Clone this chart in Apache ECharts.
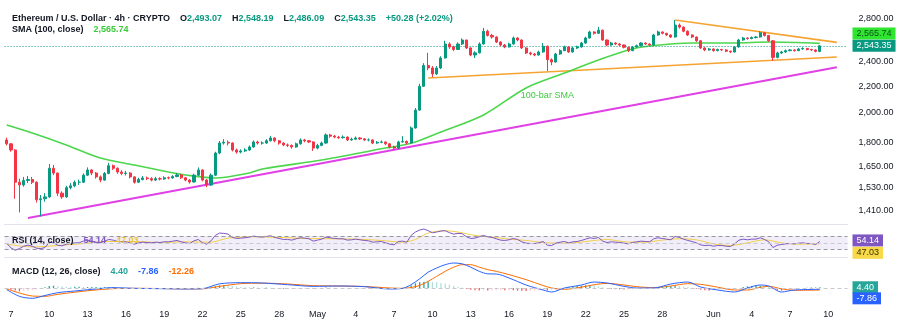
<!DOCTYPE html>
<html><head><meta charset="utf-8">
<script src="https://cdn.jsdelivr.net/npm/echarts@6/dist/echarts.min.js"></script>
<style>html,body{margin:0;padding:0;background:#fff}#c{width:903px;height:330px}</style>
</head><body><div id="c"></div>
<script>
const FONT = "'Liberation Sans Narrow','Liberation Sans',Arial,sans-serif";
const FS = 9;
const startTime = Date.UTC(2025, 3, 6, 16);
const stepHours = 8;
const categoryCount = 198;
const firstOpen = 1815;
const closes = [
1790,1751,1560,1545,1570,1575,1560,1465,1470,1480,
1640,1612,1500,1480,1530,1540,1560,1560,1600,1630,
1612,1590,1572,1610,1655,1640,1618,1610,1612,1590,
1560,1575,1584,1580,1572,1580,1578,1585,1584,1592,
1601,1585,1572,1561,1600,1630,1572,1544,1600,1732,
1795,1800,1795,1751,1738,1745,1751,1770,1802,1795,
1795,1810,1828,1810,1795,1783,1780,1770,1790,1815,
1810,1802,1763,1780,1795,1848,1840,1834,1830,1834,
1815,1820,1828,1822,1815,1815,1795,1800,1802,1790,
1770,1763,1802,1805,1795,1895,2020,2200,2370,2350,
2300,2349,2435,2560,2533,2510,2560,2597,2524,2461,
2480,2560,2680,2640,2625,2578,2551,2533,2560,2616,
2597,2524,2479,2470,2461,2488,2540,2420,2400,2470,
2500,2533,2488,2524,2533,2569,2616,2673,2660,2690,
2597,2551,2569,2560,2551,2530,2500,2533,2545,2569,
2560,2551,2644,2673,2660,2644,2625,2740,2720,2680,
2644,2625,2590,2524,2506,2515,2500,2510,2506,2495,
2488,2533,2597,2616,2610,2620,2625,2665,2640,2590,
2440,2479,2488,2500,2506,2500,2515,2520,2510,2506,
2493.07,2543.35];
const highs = [
1830,1795,1755,1580,1590,1595,1590,1565,1490,1500,
1665,1660,1615,1510,1540,1555,1570,1575,1610,1645,
1635,1618,1598,1618,1672,1662,1645,1628,1625,1618,
1594,1585,1595,1592,1588,1590,1588,1594,1592,1600,
1612,1606,1590,1578,1608,1645,1634,1578,1610,1740,
1808,1820,1812,1800,1760,1755,1762,1780,1812,1810,
1806,1820,1842,1832,1815,1800,1792,1786,1798,1825,
1822,1815,1806,1790,1805,1858,1855,1848,1842,1845,
1838,1830,1838,1834,1828,1825,1820,1808,1812,1806,
1795,1778,1810,1840,1812,1905,2035,2220,2390,2480,
2365,2365,2450,2590,2575,2545,2575,2612,2600,2530,
2495,2575,2712,2695,2655,2632,2585,2560,2572,2630,
2625,2602,2530,2490,2478,2500,2570,2545,2432,2480,
2512,2545,2540,2535,2545,2580,2628,2685,2680,2722,
2695,2602,2580,2575,2568,2556,2535,2542,2556,2578,
2575,2566,2655,2685,2678,2665,2650,2790,2755,2725,
2688,2650,2630,2595,2530,2525,2520,2518,2516,2512,
2500,2542,2608,2626,2622,2630,2635,2680,2670,2645,
2595,2490,2498,2510,2515,2512,2525,2530,2524,2516,
2512,2548.19];
const lows = [
1780,1740,1470,1400,1535,1555,1550,1450,1380,1455,
1475,1600,1485,1470,1475,1520,1532,1545,1555,1595,
1600,1580,1560,1568,1605,1630,1608,1600,1598,1582,
1552,1555,1570,1572,1565,1566,1570,1574,1576,1580,
1588,1578,1565,1552,1558,1595,1565,1532,1540,1595,
1725,1785,1780,1742,1728,1730,1738,1745,1765,1785,
1785,1790,1805,1800,1785,1775,1770,1760,1765,1785,
1800,1795,1745,1755,1775,1790,1830,1826,1822,1824,
1808,1810,1815,1815,1808,1806,1788,1790,1794,1782,
1762,1752,1760,1798,1785,1792,1890,2015,2195,2330,
2274,2290,2340,2430,2515,2495,2505,2550,2515,2450,
2435,2475,2555,2630,2610,2568,2540,2522,2528,2555,
2585,2515,2470,2458,2450,2455,2482,2325,2372,2395,
2462,2495,2480,2482,2515,2528,2562,2610,2648,2655,
2590,2540,2545,2550,2540,2520,2486,2495,2528,2540,
2550,2542,2548,2638,2650,2635,2615,2620,2705,2670,
2635,2615,2580,2515,2495,2500,2490,2494,2496,2486,
2478,2482,2528,2590,2600,2604,2612,2620,2630,2580,
2410,2432,2470,2480,2494,2492,2495,2508,2502,2498,
2485,2486.09];

const smaIdx = [0,6,14,22,30,38,42,49,57,60,74,89,92,96,102,112,122,131,139,146,151,161,171,179,191];
const smaVal = [1915,1861,1783,1701,1659,1618,1601,1584,1612,1636,1689,1763,1776,1802,1867,1985,2187,2307,2417,2506,2542,2569,2569,2578,2565.74];

const magentaIdx = [5,195], magentaVal = [1372,2356];
const lowerOrangeIdx = [99,195], lowerOrangeVal = [2266,2443];
const upperOrangeIdx = [157,195], upperOrangeVal = [2790,2575];

const rsi = [
49,35,28,33,40,43,40,34,33,36,
52,50,43,41,46,48,50,50,55,58,
55,52,50,55,60,58,54,53,53,50,
46,50,52,51,50,52,51,53,53,55,
57,53,50,48,56,60,50,46,56,72,
79,78,76,66,63,64,65,67,70,68,
67,69,71,66,63,60,60,58,62,65,
64,62,55,58,61,67,65,63,62,62,
58,59,61,59,57,56,52,53,54,50,
46,44,54,55,52,72,82,88,91,86,
80,82,85,86,80,76,78,77,68,63,
64,68,72,68,66,62,58,57,59,63,
60,53,49,48,48,50,54,43,42,49,
52,54,50,53,54,57,61,65,63,66,
55,51,53,52,51,49,47,51,53,55,
54,53,62,65,63,61,59,69,66,61,
57,54,50,44,42,43,40,42,42,40,
39,47,58,61,59,61,61,65,60,53,
36,43,45,47,48,47,49,50,48,48,
45,54.14];
const rsiMaIdx = [0,6,12,18,24,30,36,42,48,52,58,64,70,76,82,88,93,96,99,103,106,110,114,118,122,126,130,134,138,141,146,150,154,158,162,166,170,174,178,182,186,191];
const rsiMaVal = [46,38,42,48,54,54,51,53,52,64,68,66,63,62,61,57,52,60,79,86,82,72,67,61,57,51,49,51,57,60,52,52,58,62,59,47,42,50,59,50,46,47.03];

const macdIdx = [0,3,6,9,12,16,20,25,30,36,42,46,50,55,60,66,72,78,84,90,93,95,97,99,101,103,105,107,109,111,113,115,118,122,126,128,131,135,138,141,145,148,152,156,160,163,167,171,174,177,179,182,185,191];
const macdVal = [-10,-50,-62,-45,-28,-18,-8,2,-2,-4,-6,-4,25,32,30,20,10,12,8,-6,-2,20,55,95,120,140,150,145,125,100,85,84,60,18,-12,-24,0,18,36,30,10,0,0,24,36,6,-12,-24,0,18,12,-24,-12,-7.86];
const signalVal = [-5,-30,-48,-50,-38,-25,-14,-4,-2,-3,-5,-5,10,26,29,24,14,12,9,0,-2,3,15,40,70,100,125,140,140,125,110,100,80,50,15,0,-8,5,20,28,18,8,2,12,26,22,5,-12,-12,4,10,-5,-14,-12.26];
const hist = [
-5,-10,-15,-20,-18,-16,-14,-8,-2,5,
12,14,10,9,8,7,7,7,6,6,
6,6,5,5,5,6,4,2,0,-1,
-1,-1,0,-1,-1,-1,-1,0,-1,-1,
0,-1,-1,-2,0,1,-1,-2,3,10,
16,18,16,12,8,6,5,4,4,3,
2,2,1,-1,-3,-4,-5,-5,-4,-3,
-3,-3,-4,-3,-1,3,2,1,0,0,
-1,-1,0,-1,-1,-2,-3,-3,-3,-4,
-5,-6,-3,0,2,16,28,35,38,38,
36,34,30,26,20,14,8,2,-5,-10,
-14,-15,-14,-15,-15,-14,-12,-13,-13,-14,
-16,-17,-18,-17,-16,-14,-14,-15,-13,-10,
-10,-4,5,10,13,14,16,16,15,10,
5,0,-4,-7,-8,-9,-9,-8,-6,-4,
-2,0,3,8,10,11,12,14,12,8,
6,2,-4,-10,-14,-15,-15,-14,-13,-11,
-10,-6,0,6,10,12,12,13,12,8,
-5,-14,-16,-14,-10,-6,-2,0,2,3,
3,4.40];

const priceTicks = [1410,1530,1650,1800,2000,2200,2400,2800];
const tickDates = ['04-07','04-10','04-13','04-16','04-19','04-22','04-25','04-28','05-01','05-04','05-07','05-10','05-13','05-16','05-19','05-22','05-25','05-28','06-01','06-04','06-07','06-10'];
const tickLabels = ['7','10','13','16','19','22','25','28','May','4','7','10','13','16','19','22','25','28','Jun','4','7','10'];

const pad = n => String(n).padStart(2,'0');
const categories = [];
for (let i = 0; i < categoryCount; i++) {
  const d = new Date(startTime + i * stepHours * 3600e3);
  categories.push(pad(d.getUTCMonth()+1) + '-' + pad(d.getUTCDate()) + ' ' + pad(d.getUTCHours()));
}
const tickMap = {};
tickDates.forEach((d,k) => { tickMap[d + ' 00'] = tickLabels[k]; });
const candles = closes.map((c,i) => [i === 0 ? firstOpen : closes[i-1], c, lows[i], highs[i]]);
const pairs = (idx, val) => idx.map((x,k) => [x, val[k]]);
const fmt = v => v.toLocaleString('en-US', {minimumFractionDigits:2, maximumFractionDigits:2});
const histData = hist.map((v,i) => {
  const p = i > 0 ? hist[i-1] : 0;
  const col = v >= 0 ? (v >= p ? '#26a69a' : '#b2dfdb') : (v < p ? '#ff5252' : '#ffcdd2');
  return {value: v, itemStyle: {color: col}};
});
const last = closes.length - 1;
const lastOpen = candles[last][0], lastClose = closes[last];
const chg = lastClose - lastOpen;
const HIDDEN = {color:'rgba(0,0,0,0)', width:0};
const boxLabel = (bg, fg, dy) => ({show:true, position:'end', distance:5, backgroundColor:bg, color:fg, padding:[2,4,1,4], fontSize:FS, fontFamily:FONT, offset:[0, dy||0], formatter: p => fmt(p.value)});

const chart = echarts.init(document.getElementById('c'), null, {renderer:'canvas'});
const xBase = (gi) => ({gridIndex:gi, type:'category', data:categories, boundaryGap:true,
  axisTick:{show:false}, splitLine:{show:false},
  axisLine:{show: gi < 2, lineStyle:{color:'#e0e3eb'}},
  axisLabel: gi < 2 ? {show:false} : {show:true, interval:(i,v) => tickMap[v] !== undefined, formatter: v => tickMap[v] || '', color:'#131722', fontSize:FS, fontFamily:FONT, margin:7}
});
const rt = (c) => ({color:c, fontSize:FS, fontFamily:FONT});
chart.setOption({
  animation:false,
  backgroundColor:'#ffffff',
  textStyle:{fontFamily:FONT},
  title:[
    {left:12, top:10, padding:0, text:
      '{n|Ethereum / U.S. Dollar · 4h · CRYPTO}  {n|O}{v|' + fmt(lastOpen) + '}  {n|H}{v|' + fmt(highs[last]) + '}  {n|L}{v|' + fmt(lows[last]) + '}  {n|C}{v|' + fmt(lastClose) + '}  {v|+' + fmt(chg) + ' (+' + (chg/lastOpen*100).toFixed(2) + '%)}',
      textStyle:{rich:{n:rt('#131722'), v:rt('#089981')}}},
    {left:12, top:21, padding:0, text:'{n|SMA (100, close)}  {g|' + fmt(smaVal[smaVal.length-1]) + '}',
      textStyle:{rich:{n:rt('#131722'), g:rt('#3ec93e')}}},
    {left:12, top:232, padding:0, text:'{n|RSI (14, close)}  {p|' + fmt(rsi[last]) + '}  {y|' + fmt(rsiMaVal[rsiMaVal.length-1]) + '}',
      textStyle:{rich:{n:rt('#131722'), p:rt('#7e57c2'), y:rt('#e8c23a')}}},
    {left:12, top:263, padding:0, text:'{n|MACD (12, 26, close)}  {h|' + fmt(hist[last]) + '}  {b|' + fmt(macdVal[macdVal.length-1]) + '}  {o|' + fmt(signalVal[signalVal.length-1]) + '}',
      textStyle:{rich:{n:rt('#131722'), h:rt('#26a69a'), b:rt('#2962ff'), o:rt('#ff6d00')}}}
  ],
  grid:[
    {left:4.57, right:55.5, top:4, height:220},
    {left:4.57, right:55.5, top:228, height:29},
    {left:4.57, right:55.5, top:259, height:44}
  ],
  xAxis:[xBase(0), xBase(1), xBase(2)],
  yAxis:[
    {gridIndex:0, type:'log', position:'right', min:1343, max:2954.7, splitLine:{show:false}, axisLine:{show:false}, axisTick:{show:false},
      axisLabel:{customValues:priceTicks, formatter: v => fmt(v), color:'#131722', fontSize:FS, fontFamily:FONT, margin:11}},
    {gridIndex:1, type:'value', min:8, max:94, show:false},
    {gridIndex:2, type:'value', min:-90, max:174, show:false}
  ],
  series:[
    {type:'line', xAxisIndex:0, yAxisIndex:0, data:pairs(magentaIdx, magentaVal), symbol:'none', lineStyle:{color:'#e040e6', width:2}, z:3},
    {type:'line', xAxisIndex:0, yAxisIndex:0, data:pairs(lowerOrangeIdx, lowerOrangeVal), symbol:'none', lineStyle:{color:'#f5a431', width:1.6}, z:3},
    {type:'line', xAxisIndex:0, yAxisIndex:0, data:pairs(upperOrangeIdx, upperOrangeVal), symbol:'none', lineStyle:{color:'#f5a431', width:1.6}, z:3},
    {type:'line', xAxisIndex:0, yAxisIndex:0, data:pairs(smaIdx, smaVal), smooth:0.3, symbol:'none', lineStyle:{color:'#4cd64c', width:1.6}, z:4,
      markPoint:{symbol:'circle', symbolSize:0, data:[{coord:[127, 2132], label:{show:true, position:'inside', formatter:'100-bar SMA', color:'#3ec93e', fontSize:FS, fontFamily:FONT}}]},
      markLine:{symbol:['none','none'], silent:true, lineStyle:HIDDEN, data:[{yAxis:smaVal[smaVal.length-1], label:boxLabel('#2ee62e','#124d24',-10)}]}},
    {type:'candlestick', xAxisIndex:0, yAxisIndex:0, data:candles, barWidth:2.6, z:5,
      itemStyle:{color:'#089981', color0:'#f23645', borderColor:'#089981', borderColor0:'#f23645', borderWidth:1},
      markLine:{symbol:['none','none'], silent:true, lineStyle:{color:'#089981', type:[1,2], width:1},
        data:[{yAxis:lastClose, label:boxLabel('#089981','#ffffff',0)}]}},
    {type:'line', xAxisIndex:1, yAxisIndex:1, data:rsi, symbol:'none', lineStyle:{color:'#7e57c2', width:1}, z:4,
      markArea:{silent:true, itemStyle:{color:'rgba(126,87,194,0.10)'}, data:[[{yAxis:30},{yAxis:70}]]},
      markLine:{symbol:['none','none'], silent:true, data:[
        {yAxis:70, lineStyle:{color:'#9598a1', type:[4,3], width:1}, label:{show:false}},
        {yAxis:50, lineStyle:{color:'#c7c9d0', type:[4,3], width:1}, label:{show:false}},
        {yAxis:30, lineStyle:{color:'#9598a1', type:[4,3], width:1}, label:{show:false}},
        {yAxis:rsi[last], lineStyle:HIDDEN, label:boxLabel('#7e57c2','#ffffff',-1)}
      ]}},
    {type:'line', xAxisIndex:1, yAxisIndex:1, data:pairs(rsiMaIdx, rsiMaVal), smooth:0.3, symbol:'none', lineStyle:{color:'#f2cf4a', width:1}, z:3,
      markLine:{symbol:['none','none'], silent:true, lineStyle:HIDDEN, data:[{yAxis:rsiMaVal[rsiMaVal.length-1], label:boxLabel('#f7d949','#3a3000',9)}]}},
    {type:'bar', xAxisIndex:2, yAxisIndex:2, data:histData, barWidth:1.3, z:2,
      markLine:{symbol:['none','none'], silent:true, data:[
        {yAxis:0, lineStyle:{color:'#c7c9d0', type:[4,3], width:1}, label:{show:false}},
        {yAxis:hist[last], lineStyle:HIDDEN, label:boxLabel('#26a69a','#ffffff',0)}
      ]}},
    {type:'line', xAxisIndex:2, yAxisIndex:2, data:pairs(macdIdx, macdVal), smooth:0.3, symbol:'none', lineStyle:{color:'#2962ff', width:1}, z:4,
      markLine:{symbol:['none','none'], silent:true, lineStyle:HIDDEN, data:[{yAxis:macdVal[macdVal.length-1], label:boxLabel('#2962ff','#ffffff',9)}]}},
    {type:'line', xAxisIndex:2, yAxisIndex:2, data:pairs(macdIdx, signalVal), smooth:0.3, symbol:'none', lineStyle:{color:'#ff6d00', width:1}, z:3}
  ]
});
</script></body></html>
